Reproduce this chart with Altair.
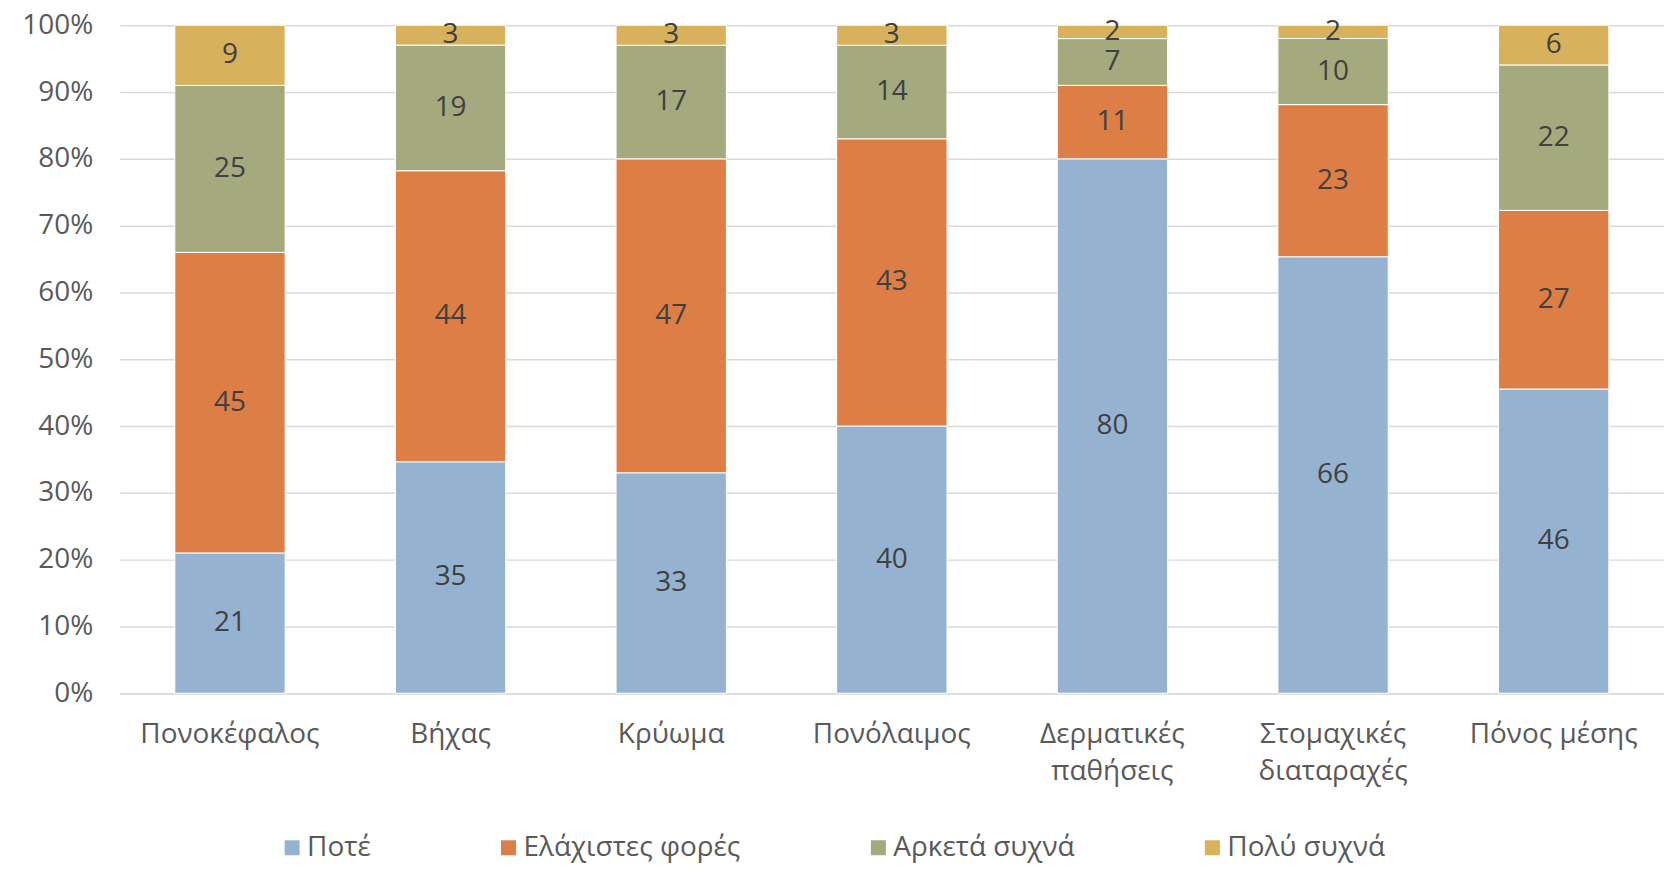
import altair as alt
import pandas as pd

categories = ["Πονοκέφαλος", "Βήχας", "Κρύωμα", "Πονόλαιμος",
              "Δερματικές παθήσεις", "Στομαχικές διαταραχές", "Πόνος μέσης"]
series = ["Ποτέ", "Ελάχιστες φορές", "Αρκετά συχνά", "Πολύ συχνά"]
never = [21, 35, 33, 40, 80, 66, 46]
rarely = [45, 44, 47, 43, 11, 23, 27]
often = [25, 19, 17, 14, 7, 10, 22]
very_often = [9, 3, 3, 3, 2, 2, 6]
colors = ["#95B3D0", "#DD7E46", "#A4AA7E", "#D8B15C"]

rows = []
for si, (name, vals) in enumerate(zip(series, [never, rarely, often, very_often])):
    for c, v in zip(categories, vals):
        rows.append({"category": c, "series": name, "idx": si, "value": v})
df = pd.DataFrame(rows)

FONT = "Open Sans"

x = alt.X("category:N", sort=categories, title=None,
          scale=alt.Scale(paddingInner=0.5, paddingOuter=0.25),
          axis=alt.Axis(labelAngle=0, labelFontSize=28, labelColor="#595959",
                        labelFont=FONT, labelPadding=27, ticks=False,
                        domainColor="#D9D9D9", domainWidth=1.5,
                        labelLineHeight=38, labelBaseline="top", labelLimit=400,
                        labelExpr="length(datum.label) > 12 ? split(datum.label, ' ') : datum.label"))

bars = alt.Chart(df).mark_bar(stroke="#ffffff", strokeWidth=1).encode(
    x=x,
    y=alt.Y("value:Q", stack="normalize", title=None,
            scale=alt.Scale(domain=[0, 1], nice=False),
            axis=alt.Axis(format="%", values=[i / 10 for i in range(11)],
                          labelFontSize=28, labelColor="#595959", labelFont=FONT,
                          labelPadding=27, ticks=False, domain=False,
                          gridColor="#D9D9D9", gridWidth=1.5)),
    color=alt.Color("series:N", sort=series,
                    scale=alt.Scale(domain=series, range=colors),
                    legend=alt.Legend(title=None, orient="none", direction="horizontal",
                                      legendX=159, legendY=811,
                                      symbolType="square", symbolSize=225,
                                      symbolStrokeWidth=0, labelFontSize=28,
                                      labelColor="#595959", labelFont=FONT,
                                      labelLimit=500,
                                      labelOffset=1, columnPadding=124)),
    order=alt.Order("idx:Q", sort="ascending"),
)

labels = alt.Chart(df).transform_joinaggregate(
    total="sum(value)", groupby=["category"]
).transform_window(
    cum="sum(value)", sort=[alt.SortField("idx")], groupby=["category"], frame=[None, 0]
).transform_calculate(
    mid="(datum.cum - datum.value / 2) / datum.total"
).mark_text(fontSize=28, color="#404040", font=FONT, baseline="middle").encode(
    x=alt.X("category:N", sort=categories),
    y=alt.Y("mid:Q", scale=alt.Scale(domain=[0, 1], nice=False)),
    text="value:Q",
)

chart = alt.layer(bars, labels).properties(
    width=1549, height=670,
    autosize=alt.AutoSizeParams(type="none"),
    padding={"left": 112, "top": 16, "right": 0, "bottom": 170},
).configure_view(stroke=None)

chart.save("out.html", embed_options={"renderer": "svg", "actions": False})
